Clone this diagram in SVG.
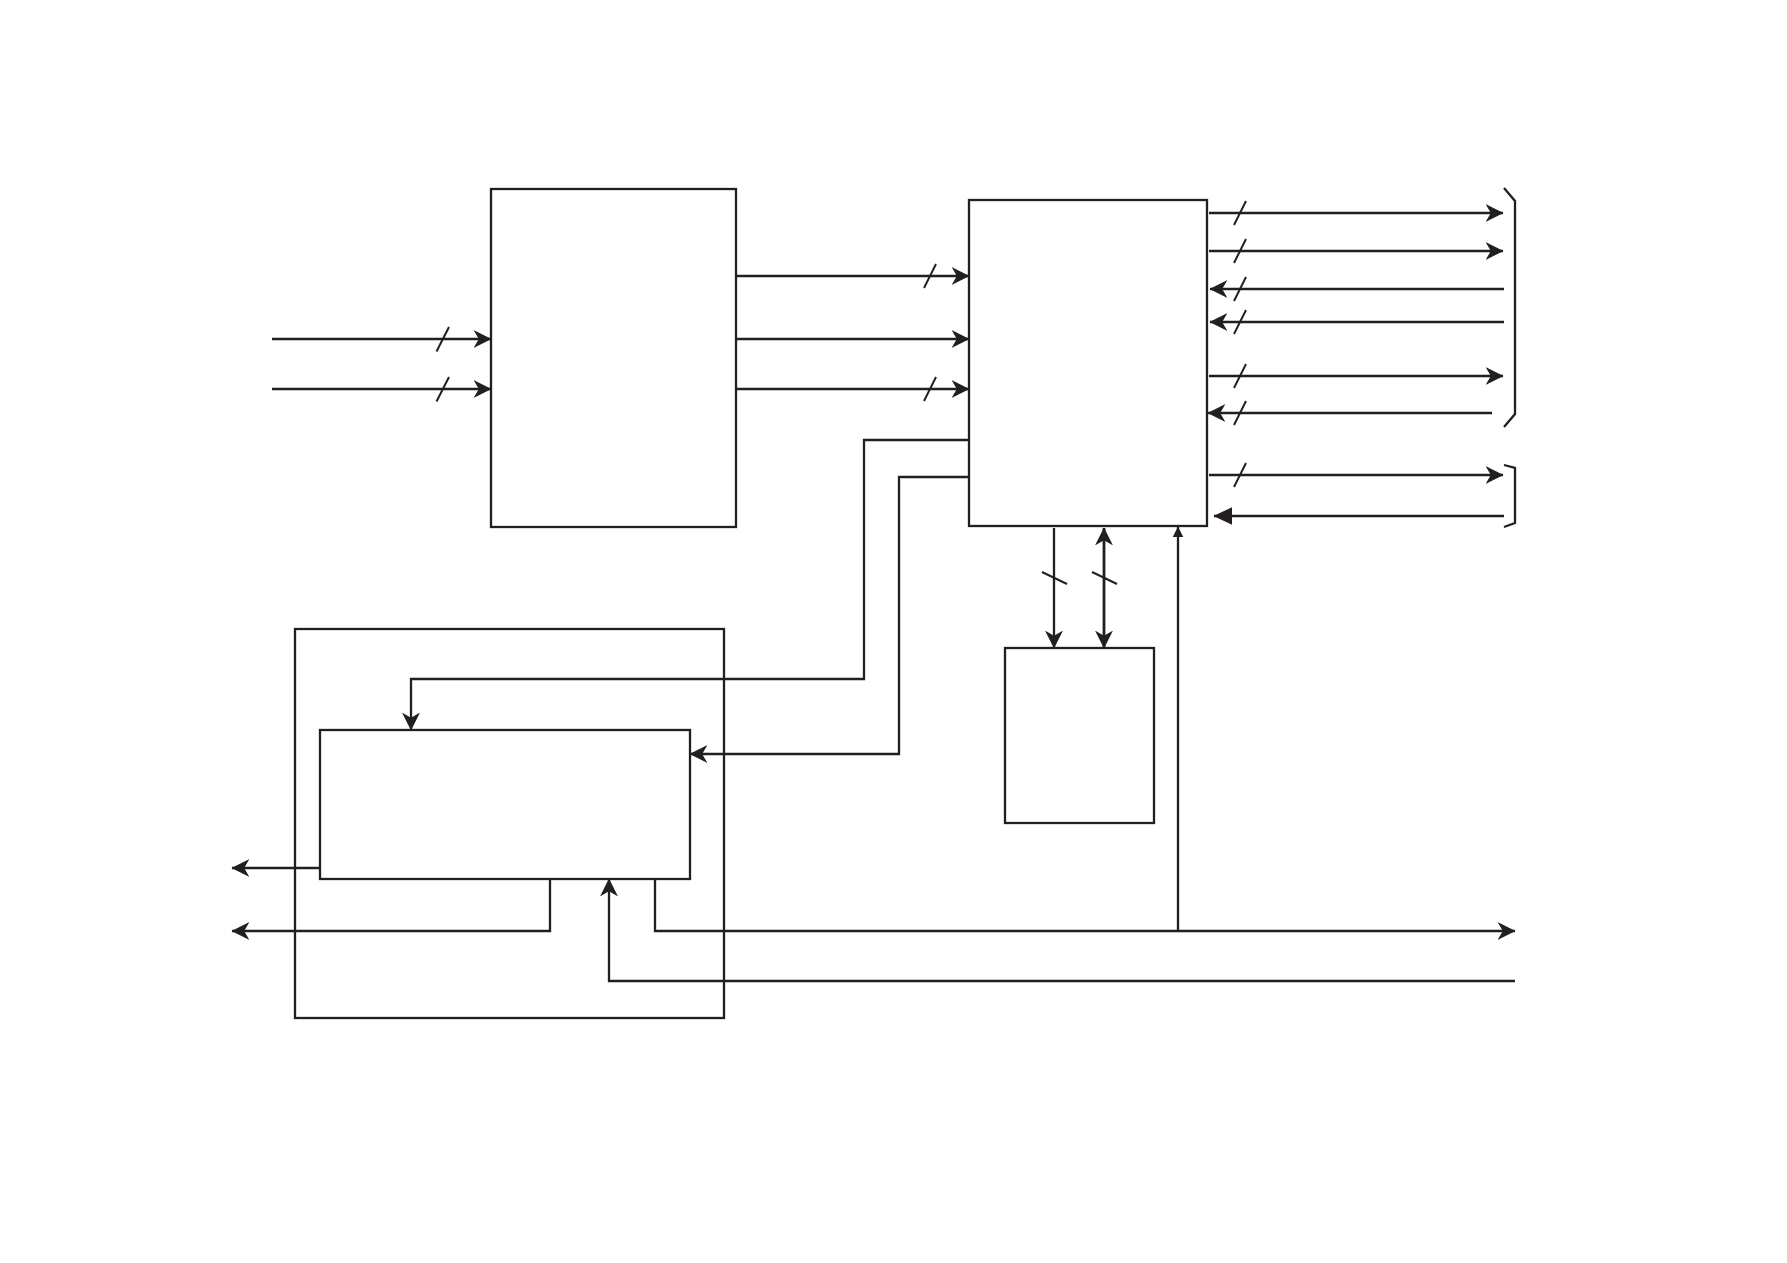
<svg xmlns="http://www.w3.org/2000/svg" width="1787" height="1263" viewBox="0 0 1787 1263">
<style>
.box{fill:none;stroke:#231f20;stroke-width:2.3}
.ln{fill:none;stroke:#231f20;stroke-width:2.3}
.sl{fill:none;stroke:#231f20;stroke-width:2}
.arr{marker-end:url(#arr)}
</style>
<defs>
<marker id="arr" markerUnits="userSpaceOnUse" markerWidth="18" markerHeight="18" viewBox="0 0 17 17" refX="16.5" refY="8.5" orient="auto-start-reverse"><path d="M0,0 L17,8.5 L0,17 L5,8.5 Z" fill="#231f20"/></marker>
<marker id="tri" markerUnits="userSpaceOnUse" markerWidth="19" markerHeight="18" viewBox="0 0 18 17" refX="17.5" refY="8.5" orient="auto"><path d="M0,0 L18,8.5 L0,17 Z" fill="#231f20"/></marker>
<marker id="tris" markerUnits="userSpaceOnUse" markerWidth="11" markerHeight="11" viewBox="0 0 10 10" refX="9.5" refY="5" orient="auto"><path d="M0,0 L10,5 L0,10 Z" fill="#231f20"/></marker>
</defs>
<rect width="1787" height="1263" fill="#fff"/>
<g id="block-left"><rect class="box" x="491" y="189" width="245" height="338"/></g>
<g id="block-main"><rect class="box" x="969" y="200" width="238" height="326"/></g>
<g id="block-small"><rect class="box" x="1005" y="648" width="149" height="175"/></g>
<g id="block-outer"><rect class="box" x="295" y="629" width="429" height="389"/></g>
<g id="block-inner"><rect class="box" x="320" y="730" width="370" height="149"/></g>
<g id="connectors">
<path class="ln arr" d="M272,339 H491"/>
<path class="ln arr" d="M272,389 H491"/>
<path class="ln arr" d="M736,276 H969"/>
<path class="ln arr" d="M736,339 H969"/>
<path class="ln arr" d="M736,389 H969"/>
<path class="ln arr" d="M1209,213 H1503"/>
<path class="ln arr" d="M1209,251 H1503"/>
<path class="ln arr" d="M1504,289 H1210"/>
<path class="ln arr" d="M1504,322 H1210"/>
<path class="ln arr" d="M1209,376 H1503"/>
<path class="ln arr" d="M1492,413 H1208"/>
<path class="ln arr" d="M1209,475 H1503"/>
<path class="ln" d="M1504,516 H1214" marker-end="url(#tri)"/>
<path class="ln" d="M1504,188 L1515,201 V414 L1504,427"/>
<path class="ln" d="M1504,465 L1515,468 V523 L1504,527"/>
<path class="ln arr" d="M969,440 H864 V679 H411 V730"/>
<path class="ln arr" d="M969,477 H899 V754 H690"/>
<path class="ln arr" d="M1054,528 V648"/>
<path class="ln arr" d="M1104,528 V648" style="stroke-width:2.8" marker-start="url(#arr)"/>
<path class="ln arr" d="M320,868 H232"/>
<path class="ln arr" d="M550,879 V931 H232"/>
<path class="ln arr" d="M655,879 V931 H1515"/>
<path class="ln" d="M1178,931 V527" marker-end="url(#tris)"/>
<path class="ln arr" d="M1515,981 H609 V879"/>
<g id="slashes">
<path class="sl" d="M436.5,351.5 L449,327"/>
<path class="sl" d="M436.5,401.5 L449,377"/>
<path class="sl" d="M924,288 L936,264"/>
<path class="sl" d="M924,401 L936,377"/>
<path class="sl" d="M1234,225 L1246,201"/>
<path class="sl" d="M1234,263 L1246,239"/>
<path class="sl" d="M1234,301 L1246,277"/>
<path class="sl" d="M1234,334 L1246,310"/>
<path class="sl" d="M1234,388 L1246,364"/>
<path class="sl" d="M1234,425 L1246,401"/>
<path class="sl" d="M1234,487 L1246,463"/>
<path class="sl" d="M1042,572 L1067,584"/>
<path class="sl" d="M1092,572 L1117,584"/>
</g>
</g>
</svg>
